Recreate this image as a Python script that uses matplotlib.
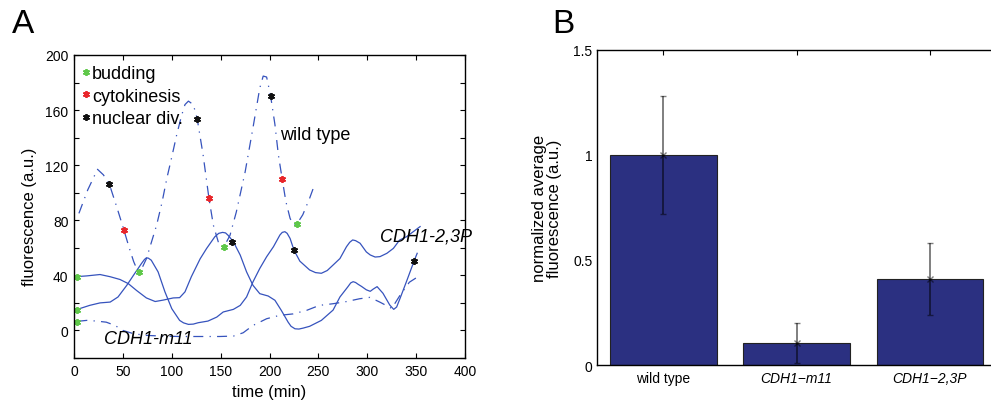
import matplotlib
matplotlib.use("Agg")
import matplotlib.pyplot as plt
from matplotlib.lines import Line2D

plt.rcParams['font.family'] = ['Liberation Sans', 'DejaVu Sans']

# ---- panel A: single-cell traces ----
wt_t = [5, 14, 24, 30, 36, 44, 51, 56, 61, 64, 66, 70, 74, 80, 84.5, 90, 95, 100, 105, 110, 113.5, 117,
        122, 126, 132, 138, 142.5, 147.5, 153, 159.5, 166, 175, 183, 190, 193.5, 197, 201, 205.5, 209,
        213, 216.7, 221, 224, 228, 234, 241, 246]
wt_y = [85, 102, 117, 113, 106.5, 89, 73, 61, 50, 45, 42.5, 46, 52, 66, 76.5, 93, 110.6, 126, 142, 156, 164, 166.5,
        164, 153.6, 127.6, 96, 76.5, 64.4, 60.3, 69, 86, 115, 147, 176, 184.7, 184, 170.6, 149.5, 127.6,
        109.6, 93.6, 81.4, 77, 77.3, 84, 96, 105.7]

a_t = [3.4, 13, 26.6, 37, 47, 55.5, 64, 74, 83, 91, 101.5, 108, 113.5, 120, 129, 135.6, 144, 148, 152, 155,
       157.7, 163, 170, 176.5, 183, 190, 198.6, 205.5, 212, 219, 222, 226, 230, 234.4, 241, 253, 265, 272,
       280, 283, 285.5, 288, 290.6, 294, 299, 303, 306, 310, 316, 323, 327, 330, 333.5, 340, 348, 351]
a_y = [39.1, 39.6, 40.6, 39, 37, 34, 29, 23.6, 21, 22, 23.6, 23.8, 28, 39, 52, 59.5, 68, 70.5, 71.2, 70.8,
       69, 64.4, 54.7, 42.5, 32.8, 26.7, 25, 21.9, 14.6, 6, 3, 1.2, 1, 1.7, 3, 7.3, 14.8, 24.3,
       31.6, 34.5, 35.4, 34.8, 33.5, 32, 29.5, 28.4, 30, 31.8, 27, 18.4, 15.3, 17, 23.3, 35.4, 50.7, 56]

b_t = [3.4, 16, 26.6, 37, 45, 54, 62, 69, 72, 74, 76, 79, 86, 93, 100, 108, 112, 117, 122, 127, 137, 146,
       152.6, 163, 170, 176.5, 183, 190, 197, 204, 210.6, 213, 215.7, 218, 221, 225, 231, 241, 247, 253,
       259, 265, 272, 278.7, 282, 285, 288, 292.6, 299, 303, 308, 313, 320, 326.7, 333, 340, 354]
b_y = [15.3, 18.2, 20, 20.6, 24.3, 32.8, 41.3, 48.6, 51.5, 52.7, 52.5, 51, 42.5, 28, 15.8, 7.3, 5.5, 4.4,
       4.6, 5.6, 6.8, 9.7, 13.4, 15.3, 18.2, 24.3, 35.2, 45, 53.5, 60.8, 69.3, 71.2, 71.7, 70.5, 66.8,
       58.3, 50.3, 43.9, 42, 41.5, 43.5, 47.5, 52.2, 60.8, 64, 65.7, 65.2, 63.3, 57, 54.8, 53.3, 53.6,
       56, 59.6, 65.6, 68, 75.4]

m11_t = [3.4, 13, 23, 33, 42, 50, 61, 74, 91, 108, 129, 149, 163, 173, 183, 197, 210.6, 224, 238, 251,
         265, 279, 292, 302.6, 313, 325, 333, 343, 354]
m11_y = [6.6, 7.3, 6.8, 6, 3.6, 0, -2.4, -3.6, -4.1, -4.4, -4.4, -4.4, -4.1, -1.7, 3.6, 8.5, 11, 12,
         14.6, 18.2, 19.4, 21, 23, 24, 20.5, 16, 25, 35, 40]

# cell-cycle events
bud_t = [3, 3, 3, 66, 153, 228]
bud_y = [39, 15, 6, 42.5, 60.5, 77]
cyto_t = [51, 138, 213]
cyto_y = [73, 96, 110]
nuc_t = [36, 126, 162, 201, 225, 348]
nuc_y = [106.5, 153.5, 64.5, 170.5, 58.5, 50.5]

# ---- panel B: normalized averages ----
strains = ['wild type', 'CDH1\u2212m11', 'CDH1\u22122,3P']
avg = [1.0, 0.105, 0.41]
err_lo = [0.72, 0.01, 0.24]
err_hi = [1.28, 0.20, 0.58]

blue = '#3653bd'
dashdot = (0, (8, 5, 1, 5))
star = dict(marker=(6, 2, 0), ms=5, mew=1.3, linestyle='none')

fig = plt.figure(figsize=(9.91, 4.06), dpi=100)
ax = fig.add_axes([0.0747, 0.1158, 0.3946, 0.7463])

ax.plot(wt_t, wt_y, color=blue, lw=0.9, linestyle=dashdot)
ax.plot(m11_t, m11_y, color=blue, lw=0.9, linestyle=dashdot)
ax.plot(a_t, a_y, color=blue, lw=0.9)
ax.plot(b_t, b_y, color=blue, lw=0.9)
ax.plot(bud_t, bud_y, color='#5fc84a', **star)
ax.plot(cyto_t, cyto_y, color='#e8262b', **star)
ax.plot(nuc_t, nuc_y, color='#111111', **star)

ax.set_xlim(0, 400)
ax.set_ylim(-20, 200)
ax.set_xticks(range(0, 401, 50))
yt = list(range(-20, 201, 20))
ax.set_yticks(yt)
ax.set_yticklabels([str(v) if v >= 0 and v % 40 == 0 else '' for v in yt])
ax.tick_params(direction='in', top=True, right=True, length=3.5, width=0.8, labelsize=10, pad=4)
for s in ax.spines.values():
    s.set_linewidth(1.0)
ax.set_xlabel('time (min)', fontsize=12, labelpad=5)
ax.set_ylabel('fluorescence (a.u.)', fontsize=12)
ax.yaxis.set_label_coords(-0.095, 0.47)

handles = [Line2D([], [], color=c, **star) for c in ['#5fc84a', '#e8262b', '#111111']]
ax.legend(handles, ['budding', 'cytokinesis', 'nuclear div.'], loc='upper left', bbox_to_anchor=(0, 0.99),
          borderaxespad=0, frameon=False, fontsize=13, handlelength=0.5, handletextpad=0.1,
          labelspacing=0.3, numpoints=1, borderpad=0.4)

ax.text(211, 142, 'wild type', fontsize=13, va='center', ha='left')
ax.text(313, 68.5, 'CDH1-2,3P', fontsize=13, style='italic', va='center', ha='left', clip_on=False)
ax.text(31, -6, 'CDH1-m11', fontsize=13, style='italic', va='center', ha='left')

fig.text(0.012, 0.978, 'A', fontsize=24, va='top', ha='left')

# ---- panel B ----
bx = fig.add_axes([0.602, 0.0985, 0.4036, 0.7766])
pos = [1, 2, 3]
bx.bar(pos, avg, width=0.8, color='#2b3081', edgecolor='#222222', linewidth=0.8, zorder=2)
bx.errorbar(pos, avg, yerr=[[a - l for a, l in zip(avg, err_lo)], [h - a for a, h in zip(avg, err_hi)]],
            fmt='x', color='black', ms=4, mew=1.0, ecolor='black', elinewidth=1.4, capsize=2.5,
            capthick=1.2, alpha=0.5, zorder=3)
bx.set_xlim(0.5, 3.5)
bx.set_ylim(0, 1.5)
bx.set_yticks([0, 0.5, 1, 1.5])
bx.set_yticklabels(['0', '0.5', '1', '1.5'])
bx.set_xticks(pos)
bx.set_xticklabels(strains)
for lbl in bx.get_xticklabels()[1:]:
    lbl.set_style('italic')
bx.tick_params(axis='x', direction='in', top=True, length=3.5, width=0.8, labelsize=10, pad=4)
bx.tick_params(axis='y', direction='in', length=0, labelsize=10, pad=3)
for s in bx.spines.values():
    s.set_linewidth(1.0)
bx.set_ylabel('normalized average\nfluorescence (a.u.)', fontsize=12, linespacing=1.0, labelpad=8)

fig.text(0.557, 0.978, 'B', fontsize=24, va='top', ha='left')

fig.savefig('out.png', dpi=100)
